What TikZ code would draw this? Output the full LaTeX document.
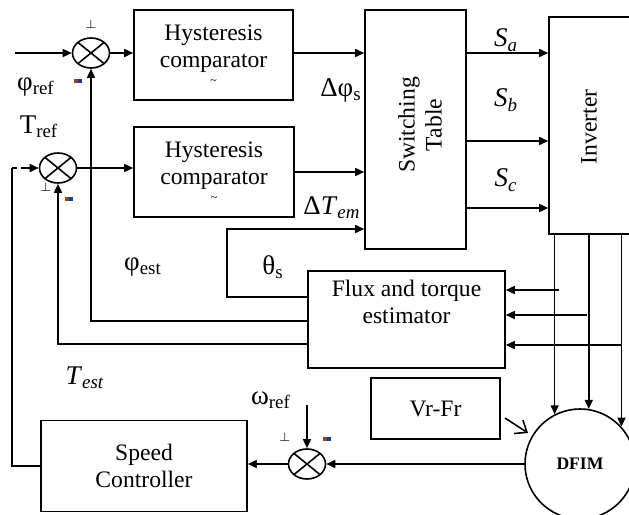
\documentclass[tikz,border=0pt]{standalone}
\usepackage{fontspec}
\setmainfont{Liberation Serif}
\usepackage{tikz}
\usetikzlibrary{arrows.meta,positioning,calc,shapes.geometric}
\definecolor{mybrown}{RGB}{150,70,20}
\definecolor{myblue}{RGB}{20,60,160}
\newcommand{\sub}[1]{\textsubscript{#1}}

\begin{document}
\begin{tikzpicture}[x=0.5pt, y=-0.5pt, line width=0.8pt,
  every node/.style={font=\fontsize{11.8}{13.5}\selectfont},
  block/.style={draw, align=center, inner sep=0pt},
  lbl/.style={font=\fontsize{13.5}{15}\selectfont},
  summer/.style={draw, ellipse, minimum width=18.5pt, minimum height=15pt, inner sep=0pt,
    path picture={\draw (path picture bounding box.north west) -- (path picture bounding box.south east)
      (path picture bounding box.north east) -- (path picture bounding box.south west);}},
  arr/.style={-{Triangle[length=4.5pt,width=4pt]}},
  sgn/.style={font=\fontsize{6}{6}\selectfont, inner sep=0pt}]
  \clip (0,0) rectangle (629,515);

  % Summing points
  \node[summer] (sumF) at (91,53) {};
  \node[summer] (sumT) at (58,168) {};
  \node[summer] (sumW) at (307,464) {};

  % Blocks
  \node[block, minimum width=79.5pt, minimum height=45pt] (hyst1) at (213.5,55) {Hysteresis\\comparator\\[-5pt]{\fontsize{6}{6}\selectfont\textasciitilde}};
  \node[block, minimum width=80pt, minimum height=45pt] (hyst2) at (214,172) {Hysteresis\\comparator\\[-5pt]{\fontsize{6}{6}\selectfont\textasciitilde}};
  \node[block, minimum width=50.5pt, minimum height=119.5pt] (tab) at (415.5,129.5) {};
  \node[rotate=90, align=center] (tabtxt) at (420,125) {Switching\\Table};
  \node[block, minimum width=45.5pt, minimum height=108.5pt] (inv) at (594.5,125.5) {};
  \node[rotate=90] (invtxt) at (589,127) {Inverter};
  \node[block, minimum width=98.5pt, minimum height=48.5pt] (est) at (406.5,319.5) {Flux and torque\\estimator\\[4pt]};
  \node[block, minimum width=64.5pt, minimum height=30.5pt] (vrfr) at (435.5,408.5) {Vr-Fr};
  \node[block, minimum width=103pt, minimum height=45.5pt] (spd) at (144,466) {Speed\\Controller};
  \node[draw, circle, minimum size=55pt, inner sep=0pt, font=\fontsize{8.8}{10}\selectfont\bfseries] (dfim) at (580,464) {DFIM};

  % Free ends
  \coordinate (fin) at (15,53);
  \coordinate (fbk) at (12,168);
  \coordinate (thA) at (227,297);
  \coordinate (thB) at (227,229);
  \coordinate (fe) at (91,321);
  \coordinate (te) at (58,344);
  \coordinate (t1) at (559,290);
  \coordinate (t2) at (587,315);
  \coordinate (t3) at (621,345);
  \coordinate (wr) at (307,405);
  \coordinate (va) at (505,418);
  \coordinate (vb) at (528,433);

  % Forward path
  \draw[arr] (fin) -- (sumF.west);
  \draw[arr] (sumF.east) -- (hyst1.west |- sumF);
  \draw[arr] (hyst1.east |- sumF) -- (tab.west |- sumF);
  \draw[arr] (sumT.east) -- (hyst2.west |- sumT);
  \draw[arr] (hyst2.east) -- (tab.west |- hyst2.east);
  \foreach \yy in {53,141,208}
    \draw[arr] (tab.east |- 0,\yy) -- (inv.west |- 0,\yy);
  \foreach \a in {117,81,42}
    \draw[arr] (inv.south -| dfim.\a) -- (dfim.\a);

  % Estimator and feedback
  \draw[arr] (t1) -- (est.east |- t1);
  \draw[arr] (t2) -- (est.east |- t2);
  \draw[arr] (t3) -- (est.east |- t3);
  \draw[arr] (est.west |- thA) -- (thA) -- (thB) -- (tab.west |- thB);
  \draw[arr] (est.west |- fe) -| (sumF.south);
  \draw[arr] (est.west |- te) -| (sumT.south);
  \draw[-{Straight Barb[length=5pt,width=8pt]}] (va) -- (vb);

  % Speed loop
  \draw[arr] (wr) -- (sumW.north);
  \draw[arr] (dfim.west |- sumW) -- (sumW.east);
  \draw[arr] (sumW.west) -- (spd.east |- sumW);
  \draw (spd.west) -| (fbk);
  \draw[arr, dash pattern=on 2.5pt off 2pt on 20pt] (fbk) -- (sumT.west);

  % Labels
  \node[lbl] (lphiref) at (36,87) {φ\sub{ref}};
  \node[lbl] (ltref) at (39,127) {T\sub{ref}};
  \node[lbl] (ldphi) at (341,90) {Δφ\sub{s}};
  \node[lbl] (ldtem) at (332,208) {Δ\textit{T}\sub{\textit{em}}};
  \node[lbl] (lsa) at (506,40) {\textit{S}\sub{\textit{a}}};
  \node[lbl] (lsb) at (506,100) {\textit{S}\sub{\textit{b}}};
  \node[lbl] (lsc) at (506,180) {\textit{S}\sub{\textit{c}}};
  \node[lbl] (lphiest) at (143,267) {φ\sub{est}};
  \node[lbl] (ltheta) at (273,267) {θ\sub{s}};
  \node[lbl] (ltest) at (85,378) {\textit{T}\sub{\textit{est}}};
  \node[lbl] (lwref) at (271,400) {ω\sub{ref}};

  % Signs
  \node[sgn] (p1) at (91,24) {$\perp$};
  \node[sgn] (p2) at (46,187) {$\perp$};
  \node[sgn] (p3) at (285,437) {$\perp$};
  \foreach \mx/\my in {74/79,65/197,323/437} {
    \fill[mybrown] (\mx,\my) rectangle ++(4,4);
    \fill[myblue] (\mx+4,\my) rectangle ++(4,4);
  }
\end{tikzpicture}
\end{document}
